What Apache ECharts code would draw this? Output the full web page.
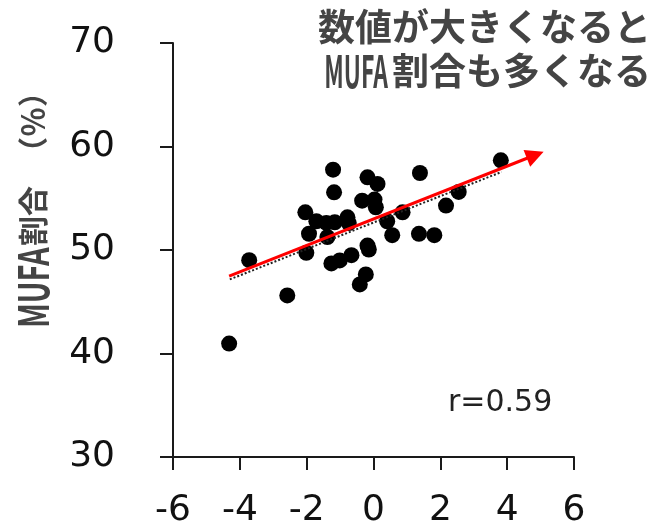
<!DOCTYPE html>
<html>
<head>
<meta charset="utf-8">
<script src="https://cdn.jsdelivr.net/npm/echarts@6/dist/echarts.min.js"></script>
<style>html,body{margin:0;padding:0;background:#fff;}#c{width:667px;height:529px;}</style>
</head>
<body>
<div id="c"></div>
<script>
// data
const xValues = [-4.32, -3.72, -2.58, -2.04, -2.01, -1.93, -1.71, -1.41, -1.38, -1.21, -1.18, -1.16, -1.26, -1.01, -0.78, -0.74, -0.66, -0.41, -0.23, -0.34, -0.18, -0.18, -0.14, 0.03, 0.07, 0.12, 0.41, 0.56, 0.87, 1.39, 1.36, 1.82, 2.17, 2.55, 3.81];
const yValues = [40.96, 49.02, 45.61, 53.64, 49.73, 51.57, 52.78, 52.62, 51.25, 57.76, 55.57, 52.68, 48.70, 48.99, 53.16, 52.60, 49.50, 46.67, 47.64, 54.77, 57.02, 50.43, 50.05, 54.87, 54.13, 56.38, 52.78, 51.43, 53.64, 57.44, 51.56, 51.43, 54.29, 55.61, 58.66];
const fitX = [-4.30, 3.83];
const fitY = [47.16, 57.54];
const arrowX = [-4.32, 4.84];
const arrowY = [47.48, 59.18];
const xTicks = [-6, -4, -2, 0, 2, 4, 6];
const yTicks = [30, 40, 50, 60, 70];
const titleLine1 = '数値が大きくなると';
const titleLine2Latin = 'MUFA';
const titleLine2Rest = '割合も多くなる';
const yNameLatin = 'MUFA';
const yNameMid = '割合';
const yNameUnit = '（％）';
const rLabel = 'r=0.59';

const points = xValues.map((x, i) => [x, yValues[i]]);
const fitData = fitX.map((x, i) => [x, fitY[i]]);

const chart = echarts.init(document.getElementById('c'), null, {renderer: 'canvas'});
const gray = '#444444';
const cjk = '"Noto Sans CJK JP", sans-serif';
chart.setOption({
  animation: false,
  backgroundColor: '#ffffff',
  grid: {left: 173, top: 43, width: 401, height: 415, containLabel: false},
  xAxis: {
    type: 'value', min: xTicks[0], max: xTicks[xTicks.length - 1], interval: 2,
    axisLine: {onZero: false, lineStyle: {color: '#1a1a1a', width: 2}},
    axisTick: {show: true, inside: false, length: 13, lineStyle: {color: '#1a1a1a', width: 2}},
    axisLabel: {margin: 36, fontSize: 36, color: '#111', fontFamily: 'DejaVu Sans'},
    splitLine: {show: false}
  },
  yAxis: {
    type: 'value', min: yTicks[0], max: yTicks[yTicks.length - 1], interval: 10,
    axisLine: {show: true, onZero: false, lineStyle: {color: '#1a1a1a', width: 2}},
    axisTick: {show: true, inside: false, length: 13, lineStyle: {color: '#1a1a1a', width: 2}},
    axisLabel: {margin: 58, fontSize: 36, color: '#111', fontFamily: 'DejaVu Sans'},
    splitLine: {show: false}
  },
  series: [
    {
      type: 'scatter', data: points, symbol: 'circle', symbolSize: 16,
      itemStyle: {color: '#000', opacity: 1}, z: 2
    },
    {
      type: 'line', data: fitData, symbol: 'none', z: 3,
      lineStyle: {color: '#222', width: 2, type: [2, 2]}
    },
    {
      type: 'line', data: [], z: 4,
      markLine: {
        silent: true, symbol: ['none', 'triangle'], symbolSize: 18, animation: false,
        label: {show: false},
        lineStyle: {color: '#ff0000', width: 3, type: 'solid'},
        data: [[{coord: [arrowX[0], arrowY[0]]}, {coord: [arrowX[1], arrowY[1]]}]]
      }
    }
  ],
  graphic: [
    {type: 'text', x: 651, y: 27, style: {text: titleLine1, font: 'bold 37px ' + cjk, fill: gray, align: 'right', verticalAlign: 'middle'}},
    {type: 'text', x: 651, y: 71, style: {text: titleLine2Rest, font: 'bold 37px ' + cjk, fill: gray, align: 'right', verticalAlign: 'middle'}},
    {type: 'text', x: 388, y: 71, scaleX: 0.52, style: {text: titleLine2Latin, font: 'bold 44px ' + cjk, fill: gray, align: 'right', verticalAlign: 'middle'}},
    {type: 'group', x: 33, y: 328, rotation: Math.PI / 2, children: [
      {type: 'text', x: 0, y: 0, scaleX: 0.69, style: {text: yNameLatin, font: 'bold 42px ' + cjk, fill: gray, align: 'left', verticalAlign: 'middle'}},
      {type: 'text', x: 82, y: 0, style: {text: yNameMid, font: 'bold 30px ' + cjk, fill: gray, align: 'left', verticalAlign: 'middle'}},
      {type: 'text', x: 161, y: 0, style: {text: yNameUnit, font: 'bold 30px ' + cjk, fill: gray, align: 'left', verticalAlign: 'middle'}}
    ]},
    {type: 'text', x: 448, y: 403, style: {text: rLabel, font: '30px "DejaVu Sans"', fill: '#222', align: 'left', verticalAlign: 'middle'}}
  ]
});
</script>
</body>
</html>
